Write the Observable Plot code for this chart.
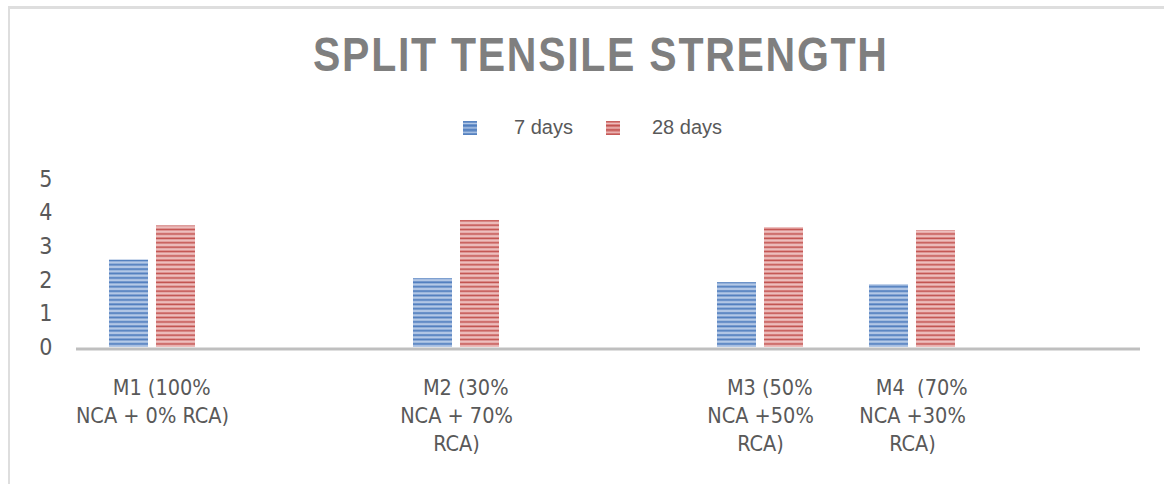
<!DOCTYPE html>
<html>
<head>
<meta charset="utf-8">
<script src="https://cdn.jsdelivr.net/npm/d3@7"></script>
<script src="https://cdn.jsdelivr.net/npm/@observablehq/plot@0.6"></script>
<style>
  html, body { margin: 0; padding: 0; background: #fff; }
  #wrap { position: relative; width: 1164px; height: 484px; overflow: hidden; background: #fff; }
  #frame { position: absolute; left: 8px; top: 6px; width: 1200px; height: 500px;
           border-top: 3px solid #dedede; border-left: 2px solid #dedede; box-sizing: border-box; }
  #title { position: absolute; top: 31px; left: 0;
           font-family: "Liberation Sans", Arial, sans-serif; font-weight: bold;
           font-size: 48px; line-height: 48px; letter-spacing: 2px; color: #7f7f7f; white-space: nowrap;
           transform-origin: 0 0; }
  .leg { position: absolute; font-family: "Liberation Sans", Arial, sans-serif; font-size: 20px;
         color: #595959; line-height: 20px; white-space: nowrap; }
  .sw { position: absolute; width: 14px; height: 14px; }
  #chart { position: absolute; left: 0; top: 150px; }
</style>
</head>
<body>
<div id="wrap">
  <div id="frame"></div>
  <div id="title"></div>
  <div id="legend"></div>
  <div id="chart"></div>
</div>
<script>
const titleText = "SPLIT TENSILE STRENGTH";
const series = ["7 days", "28 days"];
const mixes = [
  "\u00a0\u00a0\u00a0M1 (100%\nNCA + 0% RCA)",
  "\u00a0\u00a0\u00a0M2 (30%\nNCA + 70%\nRCA)",
  "\u00a0\u00a0\u00a0M3 (50%\nNCA +50%\nRCA)",
  "\u00a0\u00a0\u00a0M4  (70%\nNCA +30%\nRCA)"
];
// category slots on the axis (empty slots are blank categories)
const slots = [mixes[0], " ", mixes[1], "  ", mixes[2], mixes[3], "   "];
const days7 = [2.6, 2.05, 1.93, 1.87];
const days28 = [3.62, 3.78, 3.57, 3.48];
const yTicks = [0, 1, 2, 3, 4, 5];

const blue = {base: "#6f95cb", dark: "#4f7dbd", light: "#b3c9e7"};
const red = {base: "#d98482", dark: "#c0504d", light: "#edbcbb"};

const data = [];
mixes.forEach((m, i) => {
  data.push({mix: m, series: series[0], value: days7[i]});
  data.push({mix: m, series: series[1], value: days28[i]});
});

// title, stretched to the reference width and centred
const title = document.getElementById("title");
title.textContent = titleText;
{
  const w = title.getBoundingClientRect().width - 2; // drop trailing letter-spacing
  const target = 574;
  const s = target / w;
  title.style.left = (600 - target / 2) + "px";
  title.style.transform = `scaleX(${s})`;
}

// legend
const legend = document.getElementById("legend");
const legSw = [463, 606], legTx = [514, 652];
const cols = [blue, red];
series.forEach((s, i) => {
  const sw = document.createElement("div");
  sw.className = "sw";
  sw.style.left = legSw[i] + "px";
  sw.style.top = "121px";
  const c = cols[i];
  sw.style.background = `repeating-linear-gradient(to bottom, ${c.dark} 0px, ${c.base} 1.5px, ${c.light} 2.5px, ${c.base} 3.5px, ${c.dark} 4.4px)`;
  legend.appendChild(sw);
  const t = document.createElement("div");
  t.className = "leg";
  t.style.left = legTx[i] + "px";
  t.style.top = "117px";
  t.textContent = s;
  legend.appendChild(t);
});

const font = "'DejaVu Sans Condensed', 'Liberation Sans Narrow', sans-serif";
const chart = Plot.plot({
  width: 1164,
  height: 334,
  marginLeft: 74,
  marginRight: 22,
  marginTop: 29,
  marginBottom: 137,
  style: {fontFamily: font, fontSize: "23px", color: "#595959", background: "transparent", overflow: "visible"},
  fx: {domain: slots, padding: 0, label: null},
  x: {domain: series, paddingInner: 1/6, paddingOuter: 0.673, axis: null},
  y: {domain: [0, 5], label: null},
  color: {type: "ordinal", domain: series, range: ["url(#stripeBlue)", "url(#stripeRed)"]},
  marks: [
    Plot.barY(data, {fx: "mix", x: "series", y: "value", fill: "series"}),
    // baseline drawn once per slot so empty slots are kept too
    Plot.ruleY(slots, {fx: d => d, y: 0, stroke: "#bfbfbf", strokeWidth: 3, dy: 1.5}),
    Plot.axisY({ticks: yTicks, tickSize: 0, tickPadding: 24, fontSize: 23, fill: "#595959", label: null, tickFormat: d => String(d)}),
    Plot.axisFx({anchor: "bottom", tickSize: 0, tickPadding: 28, lineHeight: 1.3, fontSize: 21.5, fill: "#595959", label: null, tickFormat: d => d.trim() === "" ? "" : d})
  ]
});

// stripe patterns
const ns = "http://www.w3.org/2000/svg";
const defs = document.createElementNS(ns, "defs");
[["stripeBlue", blue], ["stripeRed", red]].forEach(([id, c]) => {
  const p = document.createElementNS(ns, "pattern");
  p.setAttribute("id", id);
  p.setAttribute("patternUnits", "userSpaceOnUse");
  p.setAttribute("width", "10");
  p.setAttribute("height", "4.4");
  const rows = [[0, 1.1, c.dark], [1.1, 1.1, c.base], [2.2, 1.1, c.light], [3.3, 1.1, c.base]];
  rows.forEach(([y, h, f]) => {
    const r = document.createElementNS(ns, "rect");
    r.setAttribute("x", 0); r.setAttribute("y", y);
    r.setAttribute("width", 10); r.setAttribute("height", h);
    r.setAttribute("fill", f);
    p.appendChild(r);
  });
  defs.appendChild(p);
});
chart.insertBefore(defs, chart.firstChild);
document.getElementById("chart").appendChild(chart);
</script>
</body>
</html>
